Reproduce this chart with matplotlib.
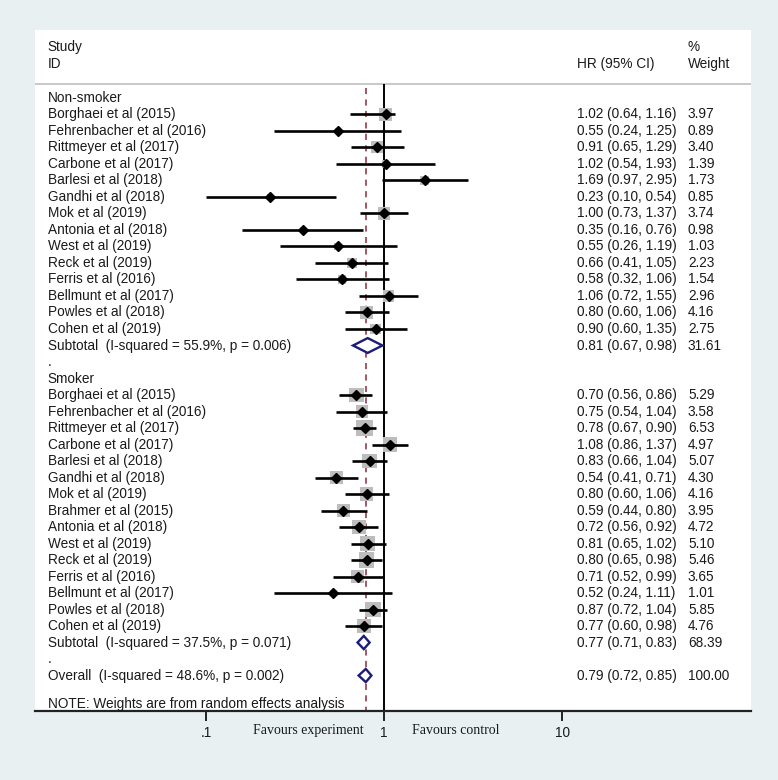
import matplotlib
matplotlib.use("Agg")
import matplotlib.pyplot as plt
from matplotlib.ticker import NullLocator
import numpy as np

# ---- data ----
groups = ["Non-smoker", "Smoker"]

ns_studies = ["Borghaei et al (2015)", "Fehrenbacher et al (2016)", "Rittmeyer et al (2017)",
              "Carbone et al (2017)", "Barlesi et al (2018)", "Gandhi et al (2018)",
              "Mok et al (2019)", "Antonia et al (2018)", "West et al (2019)",
              "Reck et al (2019)", "Ferris et al (2016)", "Bellmunt et al (2017)",
              "Powles et al (2018)", "Cohen et al (2019)"]
ns_hr = [1.02, 0.55, 0.91, 1.02, 1.69, 0.23, 1.00, 0.35, 0.55, 0.66, 0.58, 1.06, 0.80, 0.90]
ns_lo = [0.64, 0.24, 0.65, 0.54, 0.97, 0.10, 0.73, 0.16, 0.26, 0.41, 0.32, 0.72, 0.60, 0.60]
ns_hi = [1.16, 1.25, 1.29, 1.93, 2.95, 0.54, 1.37, 0.76, 1.19, 1.05, 1.06, 1.55, 1.06, 1.35]
ns_wt = [3.97, 0.89, 3.40, 1.39, 1.73, 0.85, 3.74, 0.98, 1.03, 2.23, 1.54, 2.96, 4.16, 2.75]

sm_studies = ["Borghaei et al (2015)", "Fehrenbacher et al (2016)", "Rittmeyer et al (2017)",
              "Carbone et al (2017)", "Barlesi et al (2018)", "Gandhi et al (2018)",
              "Mok et al (2019)", "Brahmer et al (2015)", "Antonia et al (2018)",
              "West et al (2019)", "Reck et al (2019)", "Ferris et al (2016)",
              "Bellmunt et al (2017)", "Powles et al (2018)", "Cohen et al (2019)"]
sm_hr = [0.70, 0.75, 0.78, 1.08, 0.83, 0.54, 0.80, 0.59, 0.72, 0.81, 0.80, 0.71, 0.52, 0.87, 0.77]
sm_lo = [0.56, 0.54, 0.67, 0.86, 0.66, 0.41, 0.60, 0.44, 0.56, 0.65, 0.65, 0.52, 0.24, 0.72, 0.60]
sm_hi = [0.86, 1.04, 0.90, 1.37, 1.04, 0.71, 1.06, 0.80, 0.92, 1.02, 0.98, 0.99, 1.11, 1.04, 0.98]
sm_wt = [5.29, 3.58, 6.53, 4.97, 5.07, 4.30, 4.16, 3.95, 4.72, 5.10, 5.46, 3.65, 1.01, 5.85, 4.76]

pooled_labels = ["Subtotal  (I-squared = 55.9%, p = 0.006)",
                 "Subtotal  (I-squared = 37.5%, p = 0.071)",
                 "Overall  (I-squared = 48.6%, p = 0.002)"]
pooled_hr = [0.81, 0.77, 0.79]
pooled_lo = [0.67, 0.71, 0.72]
pooled_hi = [0.98, 0.83, 0.85]
pooled_wt = [31.61, 68.39, 100.00]

xticks = [0.1, 1, 10]
xtick_labels = [".1", "1", "10"]

BG = "#e9f0f2"
NAVY = "#1c1c78"
GREY_BOX = "#bdbdbd"
DASH_RED = "#8b2a3a"

plt.rcParams["font.family"] = ["Liberation Sans", "DejaVu Sans"]
FS = 9.8
TXT = "#1a1a1a"

fig = plt.figure(figsize=(7.78, 7.80), dpi=100, facecolor=BG)
ax = fig.add_axes([35 / 778, 69 / 780, 716 / 778, 681 / 780])
ax.set_facecolor("white")
ax.set_xscale("log")
ax.set_xlim(10 ** -1.9607, 10 ** 2.0618)
ytop, ybot = -4.12, 37.15
ax.set_ylim(ybot, ytop)

tr = ax.get_yaxis_transform()   # x in axes fraction, y in data rows
x_lab, x_hr, x_wt = 0.018, 0.757, 0.912


def put(x, y, s):
    ax.text(x, y, s, transform=tr, va="center", fontsize=FS, color=TXT)


# header
put(x_lab, -3.09, "Study")
put(x_lab, -2.06, "ID")
put(x_hr, -2.06, "HR (95% CI)")
put(x_wt, -3.09, "%")
put(x_wt, -2.06, "Weight")
ax.axhline(-0.85, color="#c4c4c4", lw=1.3)

# reference lines
ax.vlines(1, -0.85, ybot, colors="black", lw=1.4, zorder=2)
ax.vlines(pooled_hr[2], -0.6, ybot, colors=DASH_RED, lw=1.1,
          linestyles=(0, (4, 3.5)), zorder=1)


def study_rows(start, names, hr, lo, hi, wt):
    rows = np.arange(start, start + len(names))
    ax.scatter(hr, rows, marker="s", s=np.array(wt) * 22, color=GREY_BOX,
               linewidths=0, zorder=3)
    ax.hlines(rows, lo, hi, colors="black", lw=1.9, zorder=4)
    ax.plot(hr, rows, "D", color="black", ms=4.8, zorder=5)
    for r, n, h, l, u, w in zip(rows, names, hr, lo, hi, wt):
        put(x_lab, r, n)
        put(x_hr, r, f"{h:.2f} ({l:.2f}, {u:.2f})")
        put(x_wt, r, f"{w:.2f}")
    return rows[-1] + 1


def pooled_row(r, i, half):
    h, l, u = pooled_hr[i], pooled_lo[i], pooled_hi[i]
    ax.fill([l, h, u, h, l], [r, r - half, r, r + half, r], facecolor="white",
            edgecolor=NAVY, lw=1.7, zorder=6)
    put(x_lab, r, pooled_labels[i])
    put(x_hr, r, f"{h:.2f} ({l:.2f}, {u:.2f})")
    put(x_wt, r, f"{pooled_wt[i]:.2f}")


put(x_lab, 0, groups[0])
r = study_rows(1, ns_studies, ns_hr, ns_lo, ns_hi, ns_wt)
pooled_row(r, 0, 0.45)
put(x_lab, r + 1, ".")
put(x_lab, r + 2, groups[1])
r = study_rows(r + 3, sm_studies, sm_hr, sm_lo, sm_hi, sm_wt)
pooled_row(r, 1, 0.4)
put(x_lab, r + 1, ".")
pooled_row(r + 2, 2, 0.4)
put(x_lab, r + 3.75, "NOTE: Weights are from random effects analysis")

# axes styling
for side in ["top", "left", "right"]:
    ax.spines[side].set_visible(False)
ax.spines["bottom"].set_linewidth(1.6)
ax.spines["bottom"].set_color("#222222")
ax.set_yticks([])
ax.set_xticks(xticks)
ax.set_xticklabels(xtick_labels, fontsize=FS, color=TXT)
ax.xaxis.set_minor_locator(NullLocator())
ax.tick_params(axis="x", direction="out", length=7, width=1.4, pad=4, color="#222222")

serif = ["Liberation Serif", "DejaVu Serif"]
ax.text(0.374, -0.028, "Favours experiment", transform=ax.get_xaxis_transform(),
        ha="center", va="center", fontsize=10, family=serif, color=TXT)
ax.text(2.54, -0.028, "Favours control", transform=ax.get_xaxis_transform(),
        ha="center", va="center", fontsize=10, family=serif, color=TXT)

fig.savefig("out.png", dpi=100, facecolor=BG)
